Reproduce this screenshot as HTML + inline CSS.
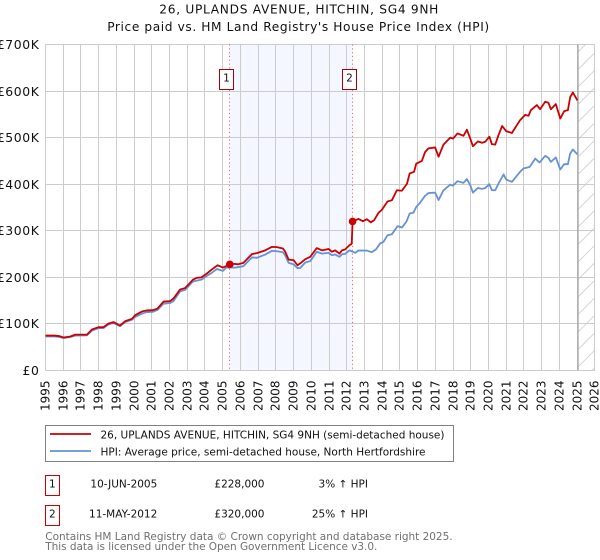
<!DOCTYPE html>
<html lang="en">
<head>
<meta charset="utf-8">
<title>26, Uplands Avenue, Hitchin - price paid vs HPI</title>
<style>
html,body{margin:0;padding:0;background:#fff;}
body{width:600px;height:560px;overflow:hidden;}
svg{display:block;font-family:"DejaVu Sans","Liberation Sans",sans-serif;}
</style>
</head>
<body>
<svg id="chart" width="600" height="560" viewBox="0 0 600 560" xmlns="http://www.w3.org/2000/svg">
  <defs>
    <pattern id="hatch" patternUnits="userSpaceOnUse" width="17.5" height="17.5">
      <line x1="-1" y1="18.5" x2="18.5" y2="-1" stroke="#cfcfcf" stroke-width="0.9"/>
    </pattern>
  </defs>
  <text x="298.8" y="13.5" font-size="12.2" text-anchor="middle" textLength="279" lengthAdjust="spacing" fill="#111">26, UPLANDS AVENUE, HITCHIN, SG4 9NH</text>
  <text x="298.2" y="31" font-size="12.2" text-anchor="middle" textLength="382" lengthAdjust="spacing" fill="#111">Price paid vs. HM Land Registry's House Price Index (HPI)</text>
  <g id="shade-layer"></g>
  <g id="grid-layer"></g>
  <g id="series-layer"></g>
  <g id="label-layer"></g>

  <g>
    <rect x="45.5" y="425.5" width="408" height="36" fill="#fff" stroke="#808080" stroke-width="1"/>
    <line x1="50" y1="434" x2="91" y2="434" stroke="#cc0000" stroke-width="1.7"/>
    <text x="100.5" y="438.5" font-size="10.5" textLength="344" lengthAdjust="spacing" fill="#111">26, UPLANDS AVENUE, HITCHIN, SG4 9NH (semi-detached house)</text>
    <line x1="50" y1="451" x2="91" y2="451" stroke="#6592d4" stroke-width="1.7"/>
    <text x="100.5" y="455.5" font-size="10.5" textLength="325" lengthAdjust="spacing" fill="#111">HPI: Average price, semi-detached house, North Hertfordshire</text>
  </g>

  <g>
    <rect x="45.5" y="475.5" width="14" height="20" fill="#fff" stroke="#cc0000" stroke-width="1"/>
    <text x="52.3" y="487.3" font-size="10.5" text-anchor="middle" fill="#111">1</text>
    <text x="157.3" y="487.3" font-size="10.5" text-anchor="end" fill="#111">10-JUN-2005</text>
    <text x="264.5" y="487.3" font-size="10.5" text-anchor="end" fill="#111">£228,000</text>
    <text x="368" y="487.3" font-size="10.5" text-anchor="end" fill="#111">3% ↑ HPI</text>
  </g>
  <g>
    <rect x="45.5" y="505.5" width="14" height="20" fill="#fff" stroke="#cc0000" stroke-width="1"/>
    <text x="52.3" y="517.3" font-size="10.5" text-anchor="middle" fill="#111">2</text>
    <text x="157.3" y="517.3" font-size="10.5" text-anchor="end" fill="#111">11-MAY-2012</text>
    <text x="264.5" y="517.3" font-size="10.5" text-anchor="end" fill="#111">£320,000</text>
    <text x="368" y="517.3" font-size="10.5" text-anchor="end" fill="#111">25% ↑ HPI</text>
  </g>

  <text x="45.3" y="540" font-size="10.5" textLength="407.3" lengthAdjust="spacing" fill="#707070">Contains HM Land Registry data © Crown copyright and database right 2025.</text>
  <text x="45.3" y="550" font-size="10.5" textLength="332" lengthAdjust="spacing" fill="#707070">This data is licensed under the Open Government Licence v3.0.</text>
</svg>
<script>
const yearTicks = [1995,1996,1997,1998,1999,2000,2001,2002,2003,2004,2005,2006,2007,2008,2009,2010,2011,2012,2013,2014,2015,2016,2017,2018,2019,2020,2021,2022,2023,2024,2025,2026];
const priceTicks = [0,100,200,300,400,500,600,700];
const priceTickLabels = ['£0','£100K','£200K','£300K','£400K','£500K','£600K','£700K'];

const saleDates = [2005.40,2012.33];
const salePrices = [228,320];
const saleLabels = ['1','2'];
const dataEndDate = 2025.05;

const paidDates = [
1995.0,1995.5,1995.8,1996.02,1996.4,1996.68,1997.34,1997.62,1997.99,1998.27,
1998.56,1998.84,1999.2,1999.5,1999.88,2000.06,2000.44,2000.72,2001.06,2001.32,
2001.66,2002.04,2002.22,2002.6,2002.88,2003.32,2003.54,2003.8,2004.1,2004.39,
2004.71,2005.01,2005.40,2005.7,2005.85,2006.17,2006.65,2006.93,2007.4,2007.78,
2008.06,2008.4,2008.53,2008.72,2009.0,2009.22,2009.37,2009.66,2009.94,2010.31,
2010.6,2010.97,2011.16,2011.35,2011.59,2011.73,2011.91,2012.15,2012.28,2012.33,
2012.66,2012.91,2013.14,2013.36,2013.55,2013.79,2013.98,2014.3,2014.55,2014.83,
2015.11,2015.4,2015.55,2015.8,2015.92,2016.24,2016.42,2016.61,2016.99,2017.18,
2017.46,2017.84,2018.0,2018.25,2018.59,2018.78,2018.97,2019.12,2019.4,2019.63,
2019.81,2020.05,2020.19,2020.38,2020.56,2020.77,2021.0,2021.32,2021.78,2022.07,
2022.26,2022.39,2022.73,2022.91,2023.2,2023.38,2023.52,2023.8,2024.05,2024.27,
2024.48,2024.61,2024.76,2025.02];
const paidValues = [
75,75,73.7,70.8,73,77,77,88,93,93,
101,104,96.6,106,111,118.7,126.6,129,129.5,133,
148,149,154.6,174,177,195,199,200,208,217,
226,221,228,229,228,231,250,252,258,265.5,
265,262,255,238,237,226,230,239,244,263,
258,261,255,258,251,258,260,269,272,320,
325.5,320.6,325,318,323,338.5,345,363,365.7,387,
386,401,423,426.6,444,450,469,477,479,459,
485,500,498,509,504,517,498,481.6,492,489,
491,502,486,485,505,525,514,510,537.5,549,
547,559,570,561,577,575,561,572,541,557,
559,587,597,580];

const hpiDates = [
1995.0,1995.5,1995.8,1996.02,1996.4,1996.68,1997.34,1997.62,1997.99,1998.27,
1998.56,1998.84,1999.2,1999.5,1999.88,2000.06,2000.44,2000.72,2001.06,2001.32,
2001.66,2002.04,2002.22,2002.6,2002.88,2003.32,2003.54,2003.83,2004.1,2004.39,
2004.67,2005.01,2005.2,2005.7,2006.17,2006.65,2006.93,2007.4,2007.78,2008.06,
2008.4,2008.53,2008.72,2009.0,2009.22,2009.37,2009.66,2009.94,2010.31,2010.6,
2010.97,2011.16,2011.35,2011.59,2011.73,2011.91,2012.15,2012.48,2012.66,2013.14,
2013.4,2013.65,2013.88,2014.07,2014.3,2014.55,2014.87,2015.11,2015.36,2015.55,
2015.77,2015.92,2016.1,2016.42,2016.61,2016.99,2017.18,2017.46,2017.84,2018.0,
2018.25,2018.59,2018.78,2018.97,2019.12,2019.4,2019.63,2019.81,2020.05,2020.19,
2020.38,2020.56,2020.85,2021.0,2021.32,2021.78,2021.98,2022.32,2022.64,2022.88,
2023.2,2023.38,2023.52,2023.8,2024.05,2024.27,2024.48,2024.61,2024.76,2025.02];
const hpiValues = [
73,73,72,69.5,72,75,75.5,85.5,91,91,
99,102,95,104,109,115,122,125.5,126,130,
143.5,145,149,170,173,191,193,195.5,203,210,
218,214,221,221,224,243,242,249,257,256,
254,247,231,228,220,220,232,235,255,251,
252.6,247.6,249,244,249.7,250.4,258,252.6,257.6,257.6,
254,260,272.6,276,290.5,292.7,310,307,319,337,
339,351,358.5,375,381,382,366,387,399,397,
406.5,403,411,398,382,392,390,391.5,400,387,
387,401,421,410,405,426.6,434,437,455,446.6,
461,456.6,448,457.6,431.6,443,443,466,474.6,464];

const SVG_NS = 'http://www.w3.org/2000/svg';
const plotLeft = 45.5, pxPerYear = 17.72, plotBottom = 370.5, pxPerK = 0.4657;
const xAxis = year => plotLeft + (year - yearTicks[0]) * pxPerYear;
const yAxis = k => plotBottom - k * pxPerK;
const snap = v => Math.floor(v) + 0.5;
const plotRight = snap(xAxis(yearTicks[yearTicks.length - 1]));
const plotTop = snap(yAxis(priceTicks[priceTicks.length - 1]));

function make(tag, attrs, parent, text) {
  const el = document.createElementNS(SVG_NS, tag);
  for (const k in attrs) el.setAttribute(k, attrs[k]);
  if (text !== undefined) el.textContent = text;
  parent.appendChild(el);
  return el;
}

const shade = document.getElementById('shade-layer');
const grid = document.getElementById('grid-layer');
const series = document.getElementById('series-layer');
const labels = document.getElementById('label-layer');

const band = make('rect', {x: xAxis(saleDates[0]), y: plotTop, width: xAxis(saleDates[1]) - xAxis(saleDates[0]), height: plotBottom - plotTop, fill: '#f4f7ff'}, shade);



const hatched = make('rect', {x: xAxis(dataEndDate), y: plotTop, width: plotRight - xAxis(dataEndDate), height: plotBottom - plotTop, fill: 'url(#hatch)'}, shade);



yearTicks.forEach(function (year) {
  const x = snap(xAxis(year));
  const line = make('line', {x1: x, y1: plotTop, x2: x, y2: plotBottom, stroke: '#cccccc', 'stroke-width': 1}, grid);
  
  
  const tx = x + 4, ty = 380.5;
  const label = make('text', {x: tx, y: ty, 'font-size': 12, 'text-anchor': 'end', fill: '#111', transform: 'rotate(-90 ' + tx + ' ' + ty + ')'}, labels, String(year));
  
  
});

priceTicks.forEach(function (k, i) {
  const y = snap(yAxis(k));
  const line = make('line', {x1: plotLeft, y1: y, x2: plotRight, y2: y, stroke: '#cccccc', 'stroke-width': 1}, grid);
  
  
  const label = make('text', {x: 39.5, y: y + 4.5, 'font-size': 12.4, 'letter-spacing': 0.6, 'text-anchor': 'end', fill: '#111'}, labels, priceTickLabels[i]);
  
  
});

const endLine = make('line', {x1: xAxis(dataEndDate), y1: plotTop, x2: xAxis(dataEndDate), y2: plotBottom, stroke: '#a8a8a8', 'stroke-width': 1.4}, grid);



saleDates.forEach(function (date) {
  const x = snap(xAxis(date));
  const line = make('line', {x1: x, y1: plotTop, x2: x, y2: plotBottom, stroke: '#f26a6a', 'stroke-width': 1, 'stroke-dasharray': '1.2 2.6'}, series);
  
  
});

function pathFor(dates, values) {
  return dates.map(function (d, i) {
    return (i ? 'L' : 'M') + xAxis(d).toFixed(2) + ' ' + yAxis(values[i]).toFixed(2);
  }).join(' ');
}

const hpiLine = make('path', {d: pathFor(hpiDates, hpiValues), fill: 'none', stroke: '#6592d4', 'stroke-width': 1.8, 'stroke-linejoin': 'round'}, series);



const paidLine = make('path', {d: pathFor(paidDates, paidValues), fill: 'none', stroke: '#cc0000', 'stroke-width': 1.8, 'stroke-linejoin': 'round'}, series);



saleDates.forEach(function (date, i) {
  const dot = make('circle', {cx: xAxis(date), cy: yAxis(salePrices[i]), r: 3.8, fill: '#cc0000'}, series);
  
  
  const cx = snap(xAxis(date)) - 3;
  const box = make('rect', {x: cx - 7, y: 69.5, width: 14, height: 20, fill: '#fff', stroke: '#aa0000', 'stroke-width': 1}, series);
  
  
  const num = make('text', {x: cx, y: 81.5, 'font-size': 10.5, 'text-anchor': 'middle', fill: '#111'}, series, saleLabels[i]);
  
  
});
</script>
</body>
</html>
